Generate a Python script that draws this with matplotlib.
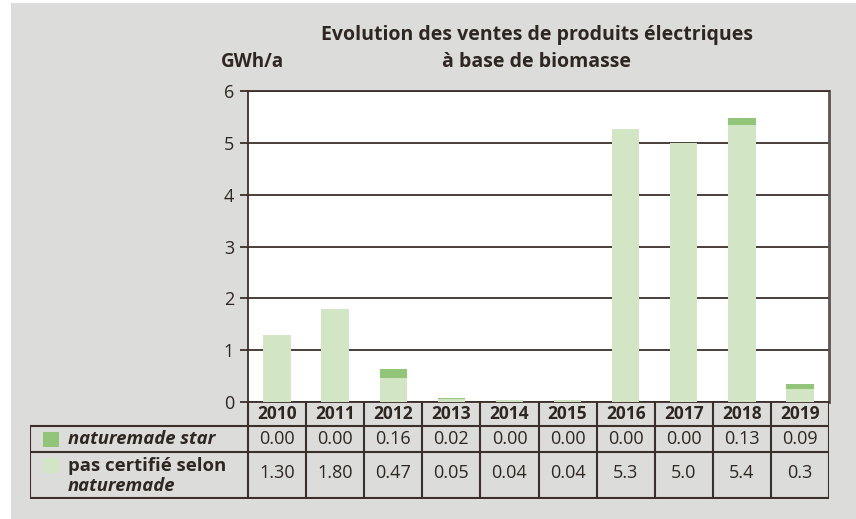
import matplotlib.pyplot as plt
from matplotlib.patches import Rectangle

years = ["2010", "2011", "2012", "2013", "2014", "2015", "2016", "2017", "2018", "2019"]
# bar heights (GWh/a)
star = [0.00, 0.00, 0.16, 0.02, 0.00, 0.00, 0.00, 0.00, 0.13, 0.09]
not_certified = [1.30, 1.80, 0.47, 0.05, 0.04, 0.04, 5.27, 5.00, 5.35, 0.25]
# values as printed in the table
star_labels = ["0.00", "0.00", "0.16", "0.02", "0.00", "0.00", "0.00", "0.00", "0.13", "0.09"]
not_certified_labels = ["1.30", "1.80", "0.47", "0.05", "0.04", "0.04", "5.3", "5.0", "5.4", "0.3"]

W, H = 856, 519
BG = "#dcdcdb"
LINE = "#3b2f2a"
TXT = "#2e2621"
DARK_GREEN = "#92c47a"
LIGHT_GREEN = "#d2e5c5"

plt.rcParams["font.family"] = ["Open Sans", "DejaVu Sans"]

fig = plt.figure(figsize=(W / 100, H / 100), dpi=100, facecolor="white")
fig.patches.append(Rectangle((11 / W, 0), 1 - 11 / W, 1 - 3 / H, transform=fig.transFigure,
                             facecolor=BG, edgecolor="none", zorder=-10))


def px(x0, y0, x1, y1):
    return [x0 / W, 1 - y1 / H, (x1 - x0) / W, (y1 - y0) / H]


# main chart
ax = fig.add_axes(px(248, 91, 829, 402))
x = list(range(len(years)))
ax.bar(x, not_certified, width=0.47, color=LIGHT_GREEN, zorder=3)
ax.bar(x, star, width=0.47, bottom=not_certified, color=DARK_GREEN, zorder=3)
ax.set_xlim(-0.5, len(years) - 0.5)
ax.set_ylim(0, 6)
ax.set_yticks(range(7))
ax.set_xticks([])
ax.yaxis.grid(True, color=LINE, linewidth=1.3, zorder=1)
ax.tick_params(axis="y", length=6, width=1.3, color=LINE, labelsize=13, labelcolor=TXT, pad=4)
for s in ["left", "top", "bottom"]:
    ax.spines[s].set_color(LINE)
    ax.spines[s].set_linewidth(1.3)
ax.spines["right"].set_color("#5e5550")
ax.spines["right"].set_linewidth(2)

fig.text(537 / W, 1 - 35 / H, "Evolution des ventes de produits électriques", ha="center", va="center",
         fontsize=14, fontweight="bold", color=TXT)
fig.text(537 / W, 1 - 62 / H, "à base de biomasse", ha="center", va="center",
         fontsize=14, fontweight="bold", color=TXT)
fig.text(221 / W, 1 - 62 / H, "GWh/a", ha="left", va="center",
         fontsize=13.5, fontweight="bold", color=TXT)

# table below the chart, sharing the bar x scale
col_px = (829 - 248) / len(years)
left_data = -0.5 - (248 - 30) / col_px
tab = fig.add_axes(px(30, 402, 829, 499))
tab.set_xlim(left_data, len(years) - 0.5)
tab.set_ylim(97, 0)
tab.axis("off")

lk = dict(color=LINE, linewidth=1.5, solid_capstyle="projecting")
for yy in [24, 50, 96]:
    tab.plot([left_data, len(years) - 0.5], [yy, yy], **lk)
for i in range(len(years) + 1):
    tab.plot([i - 0.5, i - 0.5], [0, 96], **lk)
tab.plot([left_data, left_data], [24, 96], **lk)

for i, yr in enumerate(years):
    tab.text(i, 12, yr, ha="center", va="center", fontsize=12.5, fontweight="bold", color=TXT)
    tab.text(i, 37, star_labels[i], ha="center", va="center", fontsize=13, color=TXT)
    tab.text(i, 71, not_certified_labels[i], ha="center", va="center", fontsize=13, color=TXT)

# legend swatches and labels
sw = 16 / col_px
tab.add_patch(Rectangle((left_data + 13 / col_px, 30), sw, 15, facecolor=DARK_GREEN, edgecolor="none"))
tab.add_patch(Rectangle((left_data + 13 / col_px, 56), sw, 15, facecolor=LIGHT_GREEN, edgecolor="none"))
tx = left_data + 38 / col_px
tab.text(tx, 37, "naturemade star", ha="left", va="center", fontsize=13.3,
         fontweight="bold", fontstyle="italic", color=TXT)
tab.text(tx, 64, "pas certifié selon", ha="left", va="center", fontsize=13.3,
         fontweight="bold", color=TXT)
tab.text(tx, 84, "naturemade", ha="left", va="center", fontsize=13.3,
         fontweight="bold", fontstyle="italic", color=TXT)

fig.savefig("out.png", dpi=100, facecolor=fig.get_facecolor())
